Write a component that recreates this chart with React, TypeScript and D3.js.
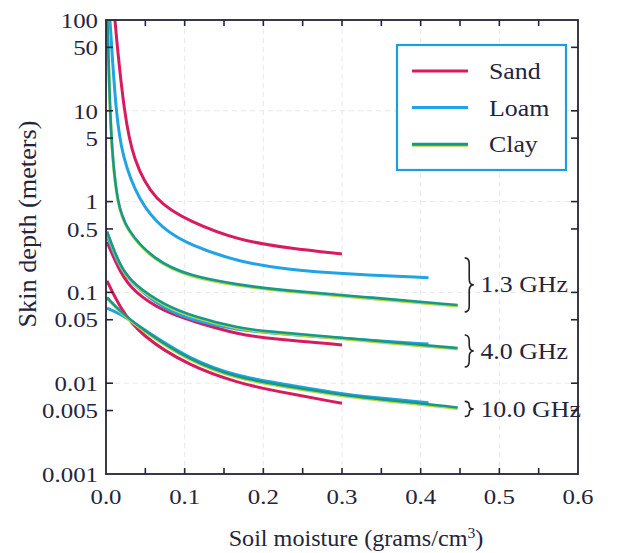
import React from 'react';
import * as d3 from 'd3';

// curves: [soil moisture, skin depth in meters]
const sand13: [number, number][] = [[0.0114, 100], [0.0144, 50], [0.023, 10], [0.034, 2.9], [0.062, 1.0], [0.107, 0.6], [0.17, 0.37], [0.234, 0.306], [0.30, 0.265]];
const loam13: [number, number][] = [[0.005, 100], [0.0072, 50], [0.0127, 10], [0.020, 3.2], [0.042, 1.0], [0.0716, 0.5], [0.107, 0.33], [0.17, 0.215], [0.234, 0.177], [0.30, 0.16], [0.41, 0.145]];
const clay13: [number, number][] = [[0.0018, 100], [0.005, 10], [0.0085, 2.9], [0.0144, 1.0], [0.025, 0.5], [0.061, 0.227], [0.107, 0.15], [0.17, 0.121], [0.221, 0.106], [0.33, 0.089], [0.447, 0.0726]];

const sand40: [number, number][] = [[0.0013, 0.36], [0.018, 0.164], [0.036, 0.10], [0.074, 0.061], [0.112, 0.0476], [0.17, 0.034], [0.2085, 0.031], [0.30, 0.0264]];
const loam40: [number, number][] = [[0.0013, 0.42], [0.018, 0.177], [0.043, 0.105], [0.074, 0.066], [0.107, 0.050], [0.17, 0.038], [0.2085, 0.036], [0.26, 0.033], [0.33, 0.0298], [0.41, 0.027]];
const clay40: [number, number][] = [[0.0013, 0.47], [0.018, 0.19], [0.036, 0.121], [0.074, 0.0726], [0.112, 0.054], [0.17, 0.040], [0.2085, 0.037], [0.26, 0.034], [0.33, 0.030], [0.41, 0.026], [0.447, 0.0244]];

const sand100: [number, number][] = [[0.0013, 0.134], [0.018, 0.067], [0.043, 0.034], [0.107, 0.0152], [0.17, 0.010], [0.2085, 0.0084], [0.30, 0.0060]];
const loam100: [number, number][] = [[0.0013, 0.067], [0.018, 0.058], [0.043, 0.042], [0.107, 0.018], [0.17, 0.0118], [0.2085, 0.0104], [0.30, 0.0076], [0.33, 0.0071], [0.41, 0.0061]];
const clay100: [number, number][] = [[0.0013, 0.088], [0.018, 0.062], [0.043, 0.041], [0.107, 0.0175], [0.17, 0.0114], [0.2085, 0.0100], [0.30, 0.0073], [0.41, 0.0059], [0.447, 0.0054]];

const soils = ['Sand', 'Loam', 'Clay'];
const soilColors = ['#d81b5e', '#21a3e6', '#16998a'];
const xTicks = [0, 0.05, 0.1, 0.15, 0.2, 0.25, 0.3, 0.35, 0.4, 0.45, 0.5, 0.55, 0.6];
const xLabels = [0, 0.1, 0.2, 0.3, 0.4, 0.5, 0.6];
const yTicks = [100, 50, 10, 5, 1, 0.5, 0.1, 0.05, 0.01, 0.005, 0.001];
const yLabels = ['100', '50', '10', '5', '1', '0.5', '0.1', '0.05', '0.01', '0.005', '0.001'];
const gridX = [0.1, 0.2, 0.3, 0.4, 0.5];
const gridY = [10, 1, 0.1, 0.01];

// band annotations: brace span (top, bottom) and label anchor
const bands = [
  { label: '1.3 GHz', top: 0.24, bottom: 0.061, mid: 0.125 },
  { label: '4.0 GHz', top: 0.034, bottom: 0.0151, mid: 0.0225 },
  { label: '10.0 GHz', top: 0.0063, bottom: 0.0043, mid: 0.0052 },
];

const W = 629;
const H = 553;
const font = "'Liberation Serif', 'DejaVu Serif', 'Times New Roman', Times, serif";
const ink = '#24243a';

function brace(x: number, y1: number, y2: number, w: number) {
  const mid = (y1 + y2) / 2;
  const r = Math.min(6, (y2 - y1) / 4);
  const xm = x + w / 2;
  return `M${x},${y1} Q${xm},${y1} ${xm},${y1 + r} L${xm},${mid - r} Q${xm},${mid} ${x + w},${mid} Q${xm},${mid} ${xm},${mid + r} L${xm},${y2 - r} Q${xm},${y2} ${x},${y2}`;
}

// the printed type is a bit wider than Liberation Serif, so stretch it sideways
function Txt({ x, y, size, sx = 1.13, anchor = 'start', dy, children }: any) {
  return (
    <text transform={`translate(${x},${y}) scale(${sx},1)`} fontSize={size} textAnchor={anchor} dy={dy} fill={ink}>
      {children}
    </text>
  );
}

export default function App() {
  const x = d3.scaleLinear().domain([0, 0.6]).range([106, 578]);
  const y = d3.scaleLog().domain([0.001, 100]).range([474, 20]);

  const line = d3.line<[number, number]>()
    .x(d => x(d[0]))
    .y(d => y(d[1]))
    .curve(d3.curveBasis);

  const series = [
    { soil: 0, data: sand13 }, { soil: 1, data: loam13 }, { soil: 2, data: clay13 },
    { soil: 0, data: sand40 }, { soil: 1, data: loam40 }, { soil: 2, data: clay40 },
    { soil: 0, data: sand100 }, { soil: 1, data: loam100 }, { soil: 2, data: clay100 },
  ];
  // draw by soil so the clay lines sit on top
  const ordered = [...series].sort((a, b) => a.soil - b.soil);

  const [x0, x1] = x.range();
  const [yb, yt] = y.range();

  return (
    <svg width={W} height={H} style={{ position: 'absolute', left: 0, top: 0, background: '#fff', fontFamily: font }}>
      {/* faint dashed grid */}
      <g stroke="#e8e8e8" strokeWidth={1} strokeDasharray="5,4">
        {gridX.map(v => <line key={'gx' + v} x1={x(v)} x2={x(v)} y1={yt} y2={yb} />)}
        {gridY.map(v => <line key={'gy' + v} x1={x0} x2={x1} y1={y(v)} y2={y(v)} />)}
      </g>

      <defs>
        <clipPath id="plot">
          <rect x={x0} y={yt} width={x1 - x0} height={yb - yt} />
        </clipPath>
      </defs>

      <g clipPath="url(#plot)" fill="none" strokeLinecap="butt">
        {ordered.map((s, i) => (
          <g key={i}>
            {s.soil === 2 && (
              <path d={line(s.data) || ''} stroke="#b8d93c" strokeWidth={3} transform="translate(0,1)" />
            )}
            <path d={line(s.data) || ''} stroke={soilColors[s.soil]} strokeWidth={s.soil === 2 ? 2.6 : 3} />
          </g>
        ))}
      </g>

      {/* frame */}
      <rect x={x0} y={yt} width={x1 - x0} height={yb - yt} fill="none" stroke={ink} strokeWidth={1.8} />

      {/* ticks, pointing inward on all four sides */}
      <g stroke={ink} strokeWidth={1.6}>
        {xTicks.slice(1, -1).map(v => (
          <g key={'xt' + v}>
            <line x1={x(v)} x2={x(v)} y1={yb} y2={yb - 6} />
            <line x1={x(v)} x2={x(v)} y1={yt} y2={yt + 6} />
          </g>
        ))}
        {yTicks.slice(1, -1).map(v => (
          <g key={'yt' + v}>
            <line x1={x0} x2={x0 + 7} y1={y(v)} y2={y(v)} />
            <line x1={x1} x2={x1 - 7} y1={y(v)} y2={y(v)} />
          </g>
        ))}
      </g>

      {xLabels.map(v => (
        <Txt key={'xl' + v} x={x(v)} y={yb + 30} size={22} anchor="middle">{d3.format('.1f')(v)}</Txt>
      ))}
      {yTicks.map((v, i) => (
        <Txt key={'yl' + v} x={x0 - 8} y={y(v)} dy="0.35em" size={22} anchor="end">{yLabels[i]}</Txt>
      ))}
      <Txt x={356} y={546} size={23} sx={1.05} anchor="middle">
        Soil moisture (grams/cm<tspan dy={-8} fontSize={15}>3</tspan><tspan dy={8}>)</tspan>
      </Txt>
      <text transform="translate(36,224) rotate(-90)" textAnchor="middle" fontSize={25}
        textLength={207} lengthAdjust="spacingAndGlyphs" fill={ink}>Skin depth (meters)</text>

      {/* frequency braces */}
      {bands.map(b => (
        <g key={b.label}>
          <path d={brace(x(0.456), y(b.top), y(b.bottom), 9)} fill="none" stroke="#222" strokeWidth={1.6} />
          <Txt x={x(0.476)} y={y(b.mid)} dy="0.35em" size={23.5} sx={1.1}>{b.label}</Txt>
        </g>
      ))}

      {/* legend */}
      <g>
        <rect x={397} y={45} width={169} height={125} fill="#fff" stroke="#1f9be0" strokeWidth={2.2} />
        {soils.map((s, i) => (
          <g key={s} transform={`translate(0,${71 + i * 36.6})`}>
            {i === 2 && <line x1={412} x2={468} y1={1} y2={1} stroke="#b8d93c" strokeWidth={3} />}
            <line x1={412} x2={468} y1={0} y2={0} stroke={soilColors[i]} strokeWidth={3} />
            <Txt x={489} y={0} dy="0.35em" size={23.5} sx={1.1}>{s}</Txt>
          </g>
        ))}
      </g>
    </svg>
  );
}
